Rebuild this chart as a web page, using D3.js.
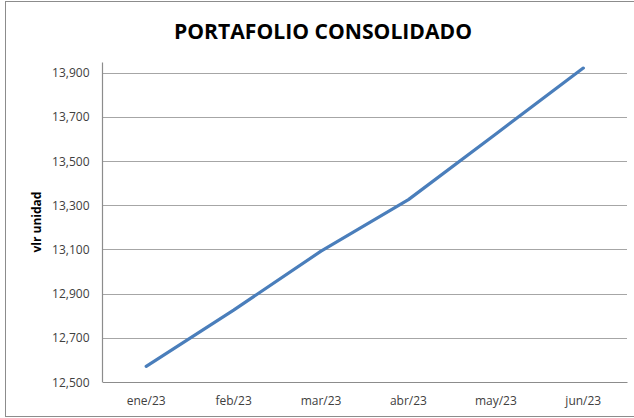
<!DOCTYPE html>
<html>
<head>
<meta charset="utf-8">
<script src="https://cdn.jsdelivr.net/npm/d3@7"></script>
<style>
html,body{margin:0;padding:0;background:#fff;}
svg{display:block;}
</style>
</head>
<body>
<svg id="chart" width="634" height="418"></svg>
<script>
const title = "PORTAFOLIO CONSOLIDADO";
const yAxisTitle = "vlr unidad";
const categories = ["ene/23","feb/23","mar/23","abr/23","may/23","jun/23"];
const values = [12571, 12825, 13092, 13325, 13622, 13920];
const yTicks = [12500, 12700, 12900, 13100, 13300, 13500, 13700, 13900];

const svg = d3.select("#chart");
const W = 634, H = 418;
const plot = {left: 102.5, right: 627, top: 72.5, bottom: 382};

// outer border
svg.append("rect").attr("x", 5.5).attr("y", 1.5).attr("width", 640).attr("height", 415)
  .attr("fill", "#fff").attr("stroke", "#8c8c8c").attr("stroke-width", 1);

const x = d3.scaleBand().domain(categories).range([plot.left, plot.right]).padding(0);
const y = d3.scaleLinear().domain([12500, 13900]).range([plot.bottom, plot.top]);

// gridlines
svg.append("g").selectAll("line").data(yTicks.slice(1)).join("line")
  .attr("x1", plot.left).attr("x2", plot.right)
  .attr("y1", d => Math.round(y(d)) + 0.5).attr("y2", d => Math.round(y(d)) + 0.5)
  .attr("stroke", "#a6a6a6").attr("stroke-width", 1.2);

// y axis
const yAxis = d3.axisLeft(y).tickValues(yTicks).tickFormat(d3.format(",")).tickSize(0).tickPadding(13);
const gy = svg.append("g").attr("transform", `translate(${plot.left},0)`).call(yAxis);
gy.select(".domain").remove();
gy.selectAll("text").attr("font-family", "Open Sans, sans-serif").attr("font-size", 12)
  .attr("fill", "#404040").attr("dy", "0.34em");
svg.append("line").attr("x1", plot.left).attr("x2", plot.left)
  .attr("y1", y(13945)).attr("y2", plot.bottom + 0.5)
  .attr("stroke", "#8c8c8c").attr("stroke-width", 1.2);

// x axis
const xAxis = d3.axisBottom(x).tickSize(0).tickPadding(14);
const gx = svg.append("g").attr("transform", `translate(0,${plot.bottom})`).call(xAxis);
gx.select(".domain").attr("stroke", "#8c8c8c").attr("stroke-width", 1.2);
gx.selectAll("text").attr("font-family", "Open Sans, sans-serif").attr("font-size", 12)
  .attr("fill", "#404040");

// line
const line = d3.line().x((d, i) => x(categories[i]) + x.bandwidth() / 2).y(d => y(d));
svg.append("path").datum(values).attr("d", line)
  .attr("fill", "none").attr("stroke", "#4a7ebb").attr("stroke-width", 3.2)
  .attr("stroke-linecap", "round").attr("stroke-linejoin", "round");

// title
svg.append("text").attr("x", 323).attr("y", 39).attr("text-anchor", "middle")
  .attr("font-family", "Open Sans, sans-serif").attr("font-weight", "bold")
  .attr("font-size", 22).attr("fill", "#000")
  .attr("textLength", 298).attr("lengthAdjust", "spacingAndGlyphs")
  .text(title);

// y axis title
svg.append("text").attr("transform", "translate(41,222) rotate(-90)").attr("text-anchor", "middle")
  .attr("font-family", "Open Sans, sans-serif").attr("font-weight", "bold")
  .attr("font-size", 12).attr("fill", "#000")
  .text(yAxisTitle);
</script>
</body>
</html>
